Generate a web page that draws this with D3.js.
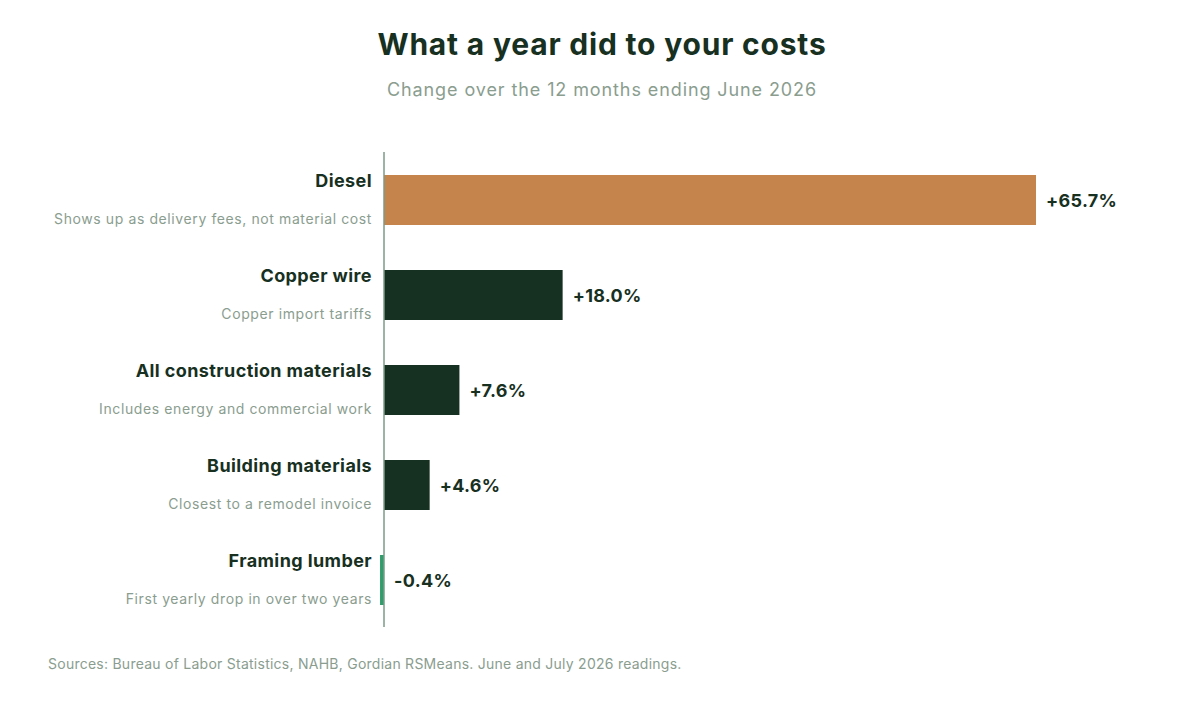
<!DOCTYPE html>
<html><head><meta charset="utf-8">
<script src="https://cdn.jsdelivr.net/npm/d3@7"></script>
<style>body{margin:0;background:#fff;font-family:Inter,"Noto Sans",sans-serif}</style>
</head><body><svg id="c" width="1200" height="716"></svg>
<script>
const categories=["Diesel","Copper wire","All construction materials","Building materials","Framing lumber"];
const notes=["Shows up as delivery fees, not material cost","Copper import tariffs","Includes energy and commercial work","Closest to a remodel invoice","First yearly drop in over two years"];
const values=[65.7,18.0,7.6,4.6,-0.4];
const labels=["+65.7%","+18.0%","+7.6%","+4.6%","-0.4%"];
const colors=["#c4844b","#163022","#163022","#163022","#2f9e6b"];

const svg=d3.select("#c");
const x=d3.scaleLinear().domain([0,65.7]).range([384,1036]);
const y=d3.scaleBand().domain(categories).range([152.5,627.5]).paddingInner(45/95).paddingOuter(22.5/95);
svg.append("text").attr("x",602).attr("y",55).attr("text-anchor","middle").attr("font-size",30).attr("font-weight",700).attr("letter-spacing",0.8).attr("fill","#17301f").text("What a year did to your costs");
svg.append("text").attr("x",602).attr("y",96).attr("text-anchor","middle").attr("font-size",18).attr("letter-spacing",0.9).attr("fill","#8a9d8f").text("Change over the 12 months ending June 2026");
const g=svg.selectAll("g.r").data(categories).join("g");
g.append("rect").attr("x",(d,i)=>Math.min(x(0),x(values[i]))).attr("width",(d,i)=>Math.max(2,Math.abs(x(values[i])-x(0)))).attr("y",d=>y(d)).attr("height",y.bandwidth()).attr("fill",(d,i)=>colors[i]);
g.append("text").attr("x",372).attr("y",d=>y(d)+12).attr("text-anchor","end").attr("font-size",18).attr("font-weight",700).attr("letter-spacing",0.4).attr("fill","#17301f").text(d=>d);
g.append("text").attr("x",372).attr("y",d=>y(d)+49).attr("text-anchor","end").attr("font-size",14).attr("letter-spacing",0.6).attr("fill","#8a9d8f").text((d,i)=>notes[i]);
g.append("text").attr("x",(d,i)=>Math.max(x(values[i]),x(0))+10).attr("y",d=>y(d)+y.bandwidth()/2+7).attr("font-size",18).attr("font-weight",700).attr("letter-spacing",0.3).attr("fill","#17301f").text((d,i)=>labels[i]);
svg.append("line").attr("x1",x(0)).attr("x2",x(0)).attr("y1",152).attr("y2",627).attr("stroke","#7d9a88").attr("stroke-width",1.5);
svg.append("text").attr("x",48).attr("y",669).attr("font-size",14).attr("letter-spacing",0.25).attr("fill","#8a9d8f").text("Sources: Bureau of Labor Statistics, NAHB, Gordian RSMeans. June and July 2026 readings.");
</script></body></html>
